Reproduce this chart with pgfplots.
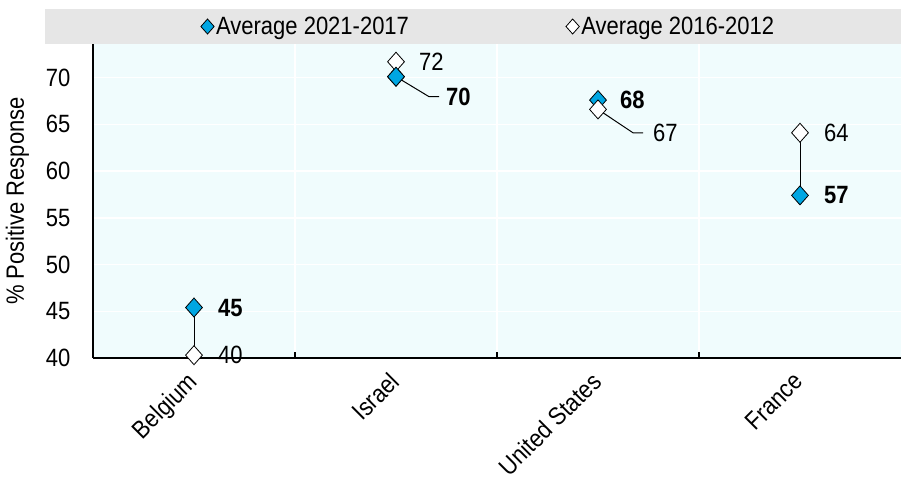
\documentclass[border=0pt]{standalone}
\usepackage{fontspec}
\setmainfont{Liberation Sans}[FakeStretch=0.88]
\usepackage{pgfplots}
\pgfplotsset{compat=1.18}
\definecolor{dotblue}{RGB}{0,166,226}
\definecolor{bgcyan}{HTML}{F0FCFD}
\definecolor{leggray}{HTML}{E6E6E6}

\newcommand{\fs}{\fontsize{25pt}{29pt}\selectfont}

\begin{document}
\begin{tikzpicture}
\useasboundingbox (-93pt,-120pt) rectangle (808pt,358pt);
\begin{axis}[
    scale only axis,
    width=808pt, height=314pt,
    xmin=-0.5, xmax=3.5, ymin=40, ymax=73.6,
    clip=false,
    axis background/.style={fill=bgcyan},
    axis x line*=bottom, axis y line*=left,
    axis line style={line width=1.6pt, -},
    xtick={0,1,2,3},
    xticklabels={Belgium, Israel, United States, France},
    minor xtick={0.5,1.5,2.5},
    major x tick style={draw=none},
    minor x tick style={black, line width=1.2pt},
    minor tick length=6pt, tick align=inside,
    ytick={40,45,...,70},
    y tick style={draw=none},
    ymajorgrids, xminorgrids,
    grid style={white, line width=1.5pt},
    minor grid style={white, line width=1.5pt},
    /pgf/number format/assume math mode=true,
    tick label style={font=\fs},
    y tick label style={xshift=-19pt},
    x tick label style={xshift=-8pt, yshift=-8pt, rotate=45, anchor=north east},
    ylabel={\% Positive Response},
    ylabel style={font=\fs, at={(axis description cs:-0.0935,0.5)}, anchor=center},
    legend columns=2,
    legend style={font=\fs, draw=none, fill=none, at={(rel axis cs:0.4895,1.0557)},
        anchor=center, /tikz/every even column/.append style={column sep=155pt}},
    legend image code/.code={\draw[#1, mark size=7.5pt] plot coordinates {(0pt,0pt)};},
]
\fill[leggray] (rel axis cs:-0.0594,1) rectangle (rel axis cs:1,1.1115);

% connectors
\addplot[forget plot, black, line width=0.9pt] coordinates {(0,45.4) (0,40.3)};
\addplot[forget plot, black, line width=0.9pt] coordinates {(3,64.1) (3,57.4)};

\addplot[only marks, mark=diamond*, mark size=9.5pt,
    mark options={fill=dotblue, draw=black, line width=0.8pt, xscale=1.18}]
    coordinates {(0,45.4) (1,70.1) (2,67.6) (3,57.4)};
\addlegendentry{Average 2021-2017}
\addplot[only marks, mark=diamond*, mark size=9.5pt,
    mark options={fill=white, draw=black, line width=0.8pt, xscale=1.18}]
    coordinates {(0,40.3) (1,71.7) (2,66.6) (3,64.1)};
\addlegendentry{Average 2016-2012}
\addplot[forget plot, only marks, mark=diamond*, mark size=9.5pt,
    mark options={fill=dotblue, draw=black, line width=0.8pt, xscale=1.18}]
    coordinates {(1,70.1)};

% leader lines
\draw[line width=1pt] (axis cs:1,70.1) -- (axis cs:1.163,67.97) -- (axis cs:1.213,67.97);
\draw[line width=1pt] (axis cs:2,66.6) -- (axis cs:2.173,64.1) -- (axis cs:2.223,64.1);

% value labels
\begin{scope}[every node/.style={font=\fs, anchor=west, inner sep=0pt}]
\node[xshift=24pt] at (axis cs:0,45.4) {\bfseries 45};
\node[xshift=24pt] at (axis cs:0,40.3) {40};
\node[xshift=23pt] at (axis cs:1,71.7) {72};
\node[xshift=50pt] at (axis cs:1,67.97) {\bfseries 70};
\node[xshift=22pt] at (axis cs:2,67.6) {\bfseries 68};
\node[xshift=55pt] at (axis cs:2,64.1) {67};
\node[xshift=24pt] at (axis cs:3,64.1) {64};
\node[xshift=24pt] at (axis cs:3,57.4) {\bfseries 57};
\end{scope}
\end{axis}
\end{tikzpicture}
\end{document}
